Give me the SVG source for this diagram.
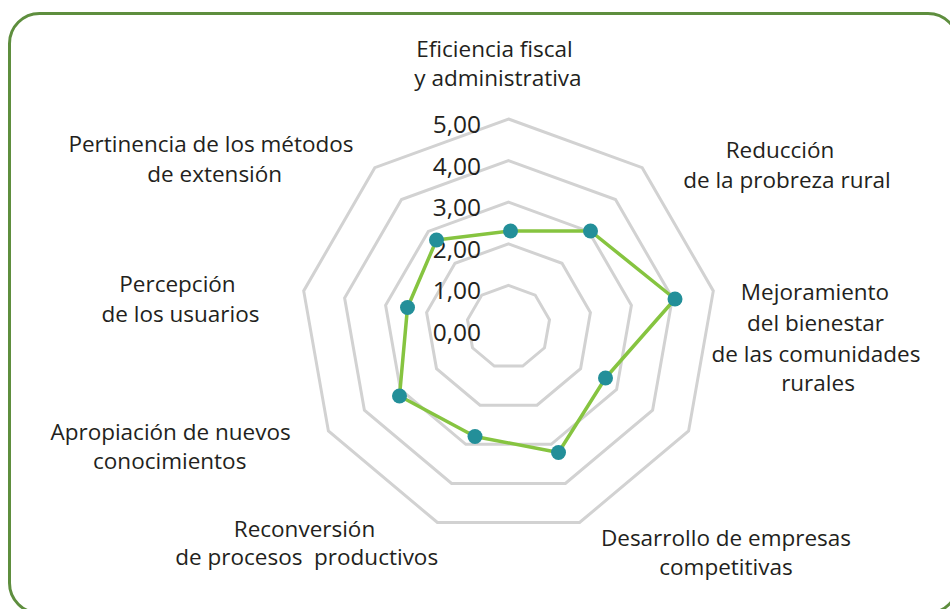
<svg xmlns="http://www.w3.org/2000/svg" width="950" height="609" viewBox="0 0 950 609">
<style>
.ring{fill:none;stroke:#d2d2d2;stroke-width:3;stroke-linejoin:miter}
.lbl{font-family:"Open Sans","Liberation Sans",sans-serif;font-size:22.5px;fill:#231f20;text-anchor:middle}
.val{font-family:"Open Sans","Liberation Sans",sans-serif;font-size:24.5px;fill:#231f20;text-anchor:end}
.dot{fill:#238f99}
</style>
<rect id="frame" x="9.5" y="13.5" width="948.5" height="599.5" rx="30" ry="30" fill="#ffffff" stroke="#5e8e3e" stroke-width="3"/>
<g id="grid">
<polygon class="ring" points="508.5,285.4 535.2,295.1 549.5,319.8 544.5,347.8 522.7,366.1 494.3,366.1 472.5,347.8 467.5,319.8 481.8,295.1"/>
<polygon class="ring" points="508.5,243.8 562,263.3 590.4,312.6 580.6,368.6 537,405.2 480,405.2 436.5,368.6 426.6,312.6 455,263.3"/>
<polygon class="ring" points="508.5,202.2 588.7,231.4 631.4,305.3 616.6,389.4 551.2,444.3 465.8,444.3 400.4,389.4 385.6,305.3 428.3,231.4"/>
<polygon class="ring" points="508.5,160.6 615.5,199.5 672.4,298.1 652.6,410.2 565.4,483.4 451.6,483.4 364.4,410.2 344.6,298.1 401.5,199.5"/>
<polygon class="ring" points="508.5,119 642.2,167.7 713.3,290.9 688.6,431 579.6,522.5 437.4,522.5 328.4,431 303.7,290.9 374.8,167.7"/>
</g>
<g id="scale">
<text class="val" x="481" y="133">5,00</text>
<text class="val" x="481" y="174.6">4,00</text>
<text class="val" x="481" y="216.2">3,00</text>
<text class="val" x="481" y="257.8">2,00</text>
<text class="val" x="481" y="299.4">1,00</text>
<text class="val" x="481" y="341">0,00</text>
</g>
<g id="series">
<polygon points="510.5,231 590.5,231 675,299 605.5,378 558.5,452.5 475,436.5 399.5,396 407.5,307.5 436.5,240" fill="none" stroke="#86c440" stroke-width="3.5" stroke-linejoin="round"/>
<circle class="dot" cx="510.5" cy="231" r="7.5"/>
<circle class="dot" cx="590.5" cy="231" r="7.5"/>
<circle class="dot" cx="675" cy="299" r="7.5"/>
<circle class="dot" cx="605.5" cy="378" r="7.5"/>
<circle class="dot" cx="558.5" cy="452.5" r="7.5"/>
<circle class="dot" cx="475" cy="436.5" r="7.5"/>
<circle class="dot" cx="399.5" cy="396" r="7.5"/>
<circle class="dot" cx="407.5" cy="307.5" r="7.5"/>
<circle class="dot" cx="436.5" cy="240" r="7.5"/>
</g>
<g id="axis-eficiencia">
<text class="lbl" x="494.5" y="56.7">Eficiencia fiscal</text>
<text class="lbl" x="498" y="86">y administrativa</text>
</g>
<g id="axis-reduccion">
<text class="lbl" x="780" y="158.3">Reducción</text>
<text class="lbl" x="787" y="188.3">de la probreza rural</text>
</g>
<g id="axis-mejoramiento">
<text class="lbl" x="815" y="300">Mejoramiento</text>
<text class="lbl" x="815.5" y="330.7">del bienestar</text>
<text class="lbl" x="816" y="361.5">de las comunidades</text>
<text class="lbl" x="818" y="390.5">rurales</text>
</g>
<g id="axis-desarrollo">
<text class="lbl" x="726" y="545.7">Desarrollo de empresas</text>
<text class="lbl" x="726" y="575">competitivas</text>
</g>
<g id="axis-reconversion">
<text class="lbl" x="304.5" y="536.7">Reconversión</text>
<text class="lbl" x="306.7" y="565" xml:space="preserve" style="white-space:pre">de procesos  productivos</text>
</g>
<g id="axis-apropiacion">
<text class="lbl" x="170.6" y="439.8">Apropiación de nuevos</text>
<text class="lbl" x="169.7" y="468.8">conocimientos</text>
</g>
<g id="axis-percepcion">
<text class="lbl" x="177.5" y="291.7">Percepción</text>
<text class="lbl" x="180.5" y="321.7">de los usuarios</text>
</g>
<g id="axis-pertinencia">
<text class="lbl" x="211" y="151.7">Pertinencia de los métodos</text>
<text class="lbl" x="214.7" y="182.3">de extensión</text>
</g>
</svg>
